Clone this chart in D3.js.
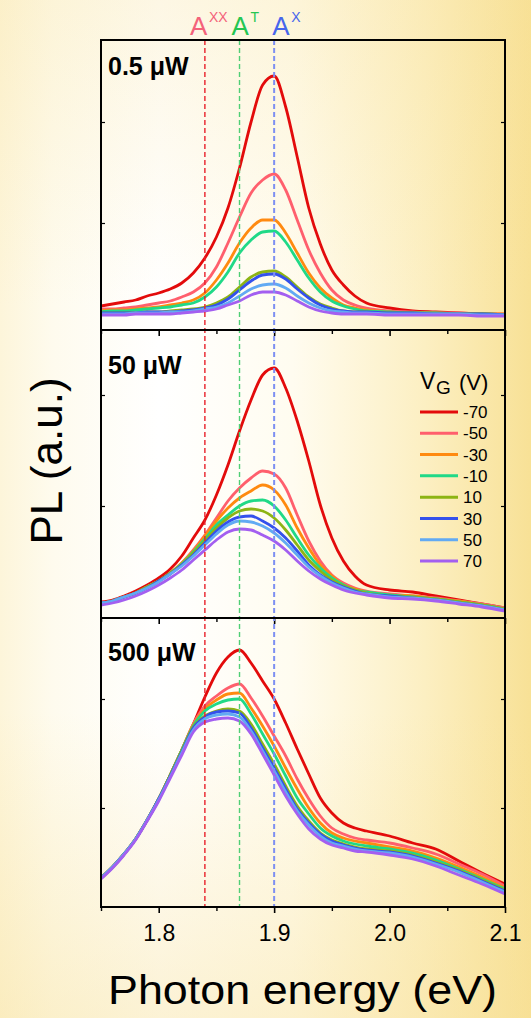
<!DOCTYPE html>
<meta charset="utf-8">
<script src="https://d3js.org/d3.v7.min.js"></script>
<style>
    body { margin: 0; }
    svg text { font-family: "Liberation Sans", Arial, sans-serif; }
</style>
<div id="chart"></div>
<script>
    // photon energy grid (eV)
    const energy = [1.75, 1.76, 1.77, 1.78, 1.79, 1.80, 1.81, 1.82, 1.83, 1.84, 1.85, 1.86, 1.87, 1.88, 1.89,
        1.90, 1.91, 1.92, 1.93, 1.94, 1.95, 1.96, 1.97, 1.98, 2.00, 2.02, 2.04, 2.06, 2.08, 2.10];

    const gateVoltages = ["-70", "-50", "-30", "-10", "10", "30", "50", "70"];
    const gateColors = ["#e30b0b", "#ff5f6d", "#ff8a10", "#20d987", "#8db414", "#3451ec", "#62aaf3", "#a35ff0"];

    const powers = ["0.5 \u03bcW", "50 \u03bcW", "500 \u03bcW"];

    // PL intensity (a.u.), one row per gate voltage, 0.5 uW
    const plLow = [
        [24, 26, 28, 30, 34, 37, 41, 47, 57, 72, 93, 122, 162, 208, 245, 254, 223, 173, 122, 86, 60, 45, 34, 27, 22, 19, 18, 17, 16, 15],
        [21, 21, 22, 23, 25, 27, 29, 33, 38, 47, 63, 87, 113, 137, 150, 156, 140, 110, 80, 57, 40, 30, 25, 22, 19, 18, 17, 17, 16, 16],
        [19, 20, 20, 21, 22, 23, 25, 27, 30, 37, 50, 67, 87, 102, 110, 110, 97, 77, 57, 42, 32, 25, 22, 20, 18, 17, 17, 16, 16, 16],
        [18, 19, 19, 20, 21, 22, 23, 25, 27, 33, 43, 58, 77, 90, 98, 99, 88, 70, 52, 38, 29, 24, 21, 19, 18, 17, 17, 16, 16, 15],
        [17, 17, 17, 17, 18, 18, 19, 20, 21, 23, 27, 33, 43, 53, 58, 59, 53, 43, 33, 26, 22, 19, 18, 18, 17, 17, 16, 16, 16, 15],
        [17, 17, 17, 17, 18, 18, 18, 19, 20, 22, 25, 31, 40, 49, 55, 56, 51, 41, 32, 25, 21, 19, 18, 18, 17, 17, 16, 16, 16, 15],
        [16, 16, 16, 17, 17, 17, 18, 18, 19, 21, 23, 27, 34, 41, 45, 46, 42, 34, 27, 22, 19, 18, 17, 17, 16, 16, 16, 16, 15, 15],
        [15, 15, 15, 16, 16, 16, 16, 17, 18, 19, 21, 25, 29, 35, 38, 38, 35, 29, 23, 19, 17, 16, 16, 16, 15, 15, 15, 15, 14, 14]
    ];

    // 50 uW
    const plMid = [
        [16, 18, 22, 27, 33, 40, 49, 62, 80, 98, 123, 153, 187, 218, 243, 250, 230, 197, 157, 113, 80, 57, 42, 33, 28, 26, 22, 18, 14, 10],
        [15, 17, 21, 25, 31, 37, 45, 55, 68, 83, 100, 117, 130, 140, 147, 144, 130, 103, 77, 57, 43, 35, 30, 27, 24, 22, 20, 17, 14, 10],
        [15, 17, 21, 25, 31, 37, 45, 55, 67, 82, 97, 110, 120, 127, 133, 128, 113, 90, 70, 53, 42, 33, 29, 26, 23, 22, 19, 17, 13, 9],
        [15, 17, 21, 25, 31, 37, 45, 54, 66, 79, 93, 103, 112, 117, 118, 112, 98, 80, 63, 50, 40, 33, 28, 26, 23, 21, 19, 16, 13, 9],
        [15, 17, 21, 25, 31, 37, 45, 53, 65, 77, 90, 100, 107, 109, 107, 100, 88, 73, 58, 47, 38, 32, 28, 25, 22, 21, 19, 16, 13, 9],
        [15, 17, 21, 25, 30, 37, 44, 53, 63, 75, 87, 96, 101, 102, 97, 90, 80, 67, 53, 43, 36, 31, 27, 24, 22, 20, 18, 15, 12, 8],
        [15, 17, 21, 25, 30, 36, 44, 52, 62, 73, 84, 93, 97, 96, 92, 85, 75, 63, 51, 42, 35, 30, 26, 24, 21, 20, 18, 15, 12, 8],
        [13, 15, 18, 22, 27, 33, 40, 48, 58, 68, 78, 86, 89, 88, 83, 77, 68, 57, 47, 39, 33, 28, 25, 23, 20, 19, 17, 14, 11, 7]
    ];

    // 500 uW
    const plHigh = [
        [29, 40, 53, 68, 87, 108, 132, 157, 183, 210, 234, 250, 257, 244, 226, 208, 184, 158, 133, 109, 94, 84, 79, 76, 71, 64, 58, 46, 34, 23],
        [29, 40, 53, 68, 87, 108, 132, 157, 183, 201, 211, 219, 223, 209, 191, 171, 151, 128, 108, 91, 79, 73, 69, 67, 64, 59, 53, 43, 33, 21],
        [29, 40, 53, 68, 87, 108, 132, 157, 182, 198, 207, 213, 214, 199, 181, 161, 139, 118, 99, 84, 74, 69, 66, 64, 60, 56, 49, 40, 30, 19],
        [29, 40, 53, 68, 87, 108, 132, 157, 181, 196, 203, 207, 208, 193, 173, 153, 131, 109, 93, 79, 71, 66, 63, 61, 58, 54, 47, 38, 28, 18],
        [29, 40, 53, 68, 87, 108, 132, 156, 180, 191, 196, 198, 196, 183, 163, 143, 121, 101, 86, 74, 67, 63, 60, 58, 56, 52, 45, 37, 27, 17],
        [29, 40, 53, 68, 87, 108, 131, 155, 179, 190, 195, 196, 194, 179, 159, 139, 118, 98, 84, 73, 66, 62, 59, 57, 55, 51, 44, 36, 26, 16],
        [29, 40, 53, 68, 87, 107, 130, 154, 177, 188, 192, 193, 190, 176, 156, 136, 115, 96, 82, 71, 64, 61, 58, 56, 54, 50, 43, 35, 25, 15],
        [28, 39, 52, 67, 86, 106, 129, 152, 175, 185, 188, 189, 186, 173, 153, 132, 111, 93, 78, 68, 62, 59, 56, 55, 52, 48, 41, 32, 23, 13]
    ];

    // left/right y tick positions per panel (a.u.)
    const yTicksPanels = [[107, 208], [112, 223], [99, 208]];

    const xMajorTicks = [1.8, 1.9, 2.0, 2.1];
    const xMinorTicks = [1.75, 1.85, 1.95, 2.05];

    // exciton markers
    const markerLabels = ["A", "A", "A"];
    const markerSups = ["XX", "T", "X"];
    const markerEnergy = [1.84, 1.87, 1.90];
    const markerTextColors = ["#f4627a", "#25c653", "#4766ec"];
    const markerLineColors = ["#e8202a", "#4fcf75", "#7d8ff2"];

    const W = 531, H = 1018;
    const left = 101, right = 505;
    const panelTops = [40, 330, 618];
    const panelBottoms = [330, 618, 907];
    const labelShift = [-15, -8, -2]; // label start relative to its dashed line

    const svg = d3.select("#chart").append("svg")
        .attr("width", W).attr("height", H);

    // background
    const defs = svg.append("defs");
    const gH = defs.append("linearGradient").attr("id", "bgH")
        .attr("x1", 0).attr("x2", 1).attr("y1", 0).attr("y2", 0);
    [[0, "#fdf5da"], [0.1, "#fefbee"], [0.3, "#ffffff"], [0.55, "#fffcf0"], [0.8, "#fcefc2"], [1, "#f8e196"]]
        .forEach(s => gH.append("stop").attr("offset", s[0]).attr("stop-color", s[1]));
    const gV = defs.append("linearGradient").attr("id", "bgV")
        .attr("x1", 0).attr("x2", 0).attr("y1", 0).attr("y2", 1);
    [[0, 0.25], [0.3, 0], [0.7, 0], [1, 0.4]]
        .forEach(s => gV.append("stop").attr("offset", s[0]).attr("stop-color", "#f7df95").attr("stop-opacity", s[1]));

    svg.append("rect").attr("width", W).attr("height", H).attr("fill", "url(#bgH)");
    svg.append("rect").attr("width", W).attr("height", H).attr("fill", "url(#bgV)");

    const x = d3.scaleLinear().domain([1.75, 2.10]).range([left, right]);

    const allData = [plLow, plMid, plHigh];

    allData.forEach((panel, p) => {
        const y = d3.scaleLinear().domain([0, 290]).range([panelBottoms[p], panelBottoms[p] - 290]);

        defs.append("clipPath").attr("id", "clip" + p)
            .append("rect")
            .attr("x", left).attr("y", panelTops[p])
            .attr("width", right - left).attr("height", panelBottoms[p] - panelTops[p]);

        const line = d3.line()
            .x((d, i) => x(energy[i]))
            .y(d => y(d))
            .curve(d3.curveMonotoneX);

        const g = svg.append("g").attr("clip-path", "url(#clip" + p + ")");
        g.selectAll("path")
            .data(panel)
            .join("path")
            .attr("d", line)
            .attr("fill", "none")
            .attr("stroke", (d, i) => gateColors[i])
            .attr("stroke-width", 2.8)
            .attr("stroke-linejoin", "round");

        // x ticks pointing down from the panel bottom
        svg.append("g")
            .attr("transform", `translate(0,${panelBottoms[p]})`)
            .call(d3.axisBottom(x).tickValues(xMajorTicks).tickSize(6).tickFormat(p === 2 ? d3.format(".1f") : ""))
            .call(a => a.select(".domain").remove())
            .call(a => a.selectAll("line").attr("stroke-width", 1.6))
            .call(a => a.selectAll("text").attr("font-size", 23).attr("dy", "1.1em")
                .attr("fill", "#000").style("font-family", "'Liberation Sans', Arial, sans-serif"));
        svg.append("g")
            .attr("transform", `translate(0,${panelBottoms[p]})`)
            .call(d3.axisBottom(x).tickValues(xMinorTicks).tickSize(4).tickFormat(""))
            .call(a => a.select(".domain").remove())
            .call(a => a.selectAll("line").attr("stroke-width", 1.4));

        // y ticks (inward, both sides)
        svg.append("g")
            .attr("transform", `translate(${left},0)`)
            .call(d3.axisRight(y).tickValues(yTicksPanels[p]).tickSize(4).tickFormat(""))
            .call(a => a.select(".domain").remove())
            .call(a => a.selectAll("line").attr("stroke-width", 1.2));
        svg.append("g")
            .attr("transform", `translate(${right},0)`)
            .call(d3.axisLeft(y).tickValues(yTicksPanels[p]).tickSize(4).tickFormat(""))
            .call(a => a.select(".domain").remove())
            .call(a => a.selectAll("line").attr("stroke-width", 1.2));

        // power label
        svg.append("text")
            .attr("x", 108)
            .attr("y", panelTops[p] + [35, 44, 43][p])
            .attr("font-size", 25)
            .attr("font-weight", "bold")
            .text(powers[p]);
    });

    // exciton dashed lines
    svg.selectAll(".marker")
        .data(markerEnergy)
        .join("line")
        .attr("class", "marker")
        .attr("x1", d => x(d)).attr("x2", d => x(d))
        .attr("y1", panelTops[0]).attr("y2", panelBottoms[2])
        .attr("stroke", (d, i) => markerLineColors[i])
        .attr("stroke-width", (d, i) => i === 2 ? 2 : 1.4)
        .attr("stroke-dasharray", "5,3");

    // exciton labels
    markerEnergy.forEach((e, i) => {
        const ax = x(e) + labelShift[i];
        svg.append("text")
            .attr("x", ax).attr("y", 35)
            .attr("font-size", 26)
            .attr("fill", markerTextColors[i])
            .text(markerLabels[i]);
        svg.append("text")
            .attr("x", ax + 19).attr("y", 22)
            .attr("font-size", 14)
            .attr("fill", markerTextColors[i])
            .text(markerSups[i]);
    });

    // panel frames
    panelTops.forEach((t, p) => {
        svg.append("rect")
            .attr("x", left).attr("y", t)
            .attr("width", right - left).attr("height", panelBottoms[p] - t)
            .attr("fill", "none")
            .attr("stroke", "#000")
            .attr("stroke-width", 2);
    });

    // legend
    const leg = svg.append("g");
    leg.append("text").attr("x", 420).attr("y", 389).attr("font-size", 23).text("V");
    leg.append("text").attr("x", 436).attr("y", 394).attr("font-size", 19).text("G");
    leg.append("text").attr("x", 459).attr("y", 390).attr("font-size", 22).text("(V)");
    const legY = d3.scalePoint().domain(gateVoltages).range([412, 561]);
    gateVoltages.forEach((v, i) => {
        leg.append("line")
            .attr("x1", 420).attr("x2", 458)
            .attr("y1", legY(v)).attr("y2", legY(v))
            .attr("stroke", gateColors[i])
            .attr("stroke-width", 3);
        leg.append("text")
            .attr("x", 463).attr("y", legY(v))
            .attr("dy", "0.36em")
            .attr("font-size", 17)
            .text(v);
    });

    // axis titles
    svg.append("text")
        .attr("transform", "translate(62,461) rotate(-90)")
        .attr("text-anchor", "middle")
        .attr("font-size", 44)
        .text("PL (a.u.)");

    svg.append("text")
        .attr("x", 108).attr("y", 1004)
        .attr("font-size", 40)
        .attr("textLength", 389)
        .attr("lengthAdjust", "spacingAndGlyphs")
        .text("Photon energy (eV)");
</script>
